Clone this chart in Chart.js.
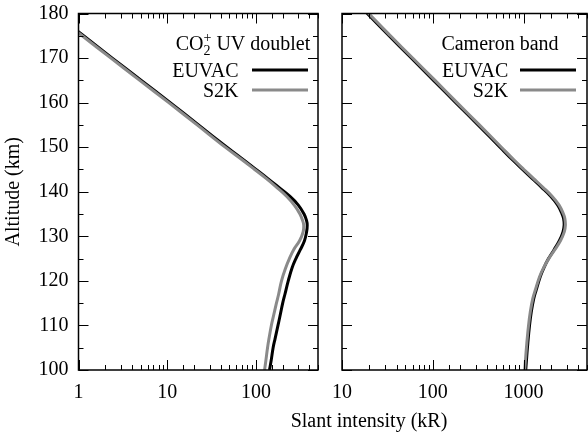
<!DOCTYPE html>
<html>
<head>
<meta charset="utf-8">
<script src="https://cdn.jsdelivr.net/npm/chart.js@4.4.1/dist/chart.umd.min.js"></script>
<style>
  body { margin: 0; background: #fff; overflow: hidden; }
  #wrap { position: relative; width: 588px; height: 434px; }
  canvas { position: absolute; top: 0; }
  #left { left: 0; }
  #right { left: 330px; }
  #xtitle { position: absolute; left: 269px; width: 200px; top: 410px; text-align: center;
            font: 20px 'Liberation Serif'; line-height: 20px; color: #000; white-space: nowrap; }
</style>
</head>
<body>
<div id="wrap">
  <canvas id="left" width="330" height="434"></canvas>
  <canvas id="right" width="258" height="434"></canvas>
  <div id="xtitle">Slant intensity (kR)</div>
</div>
<script>
// CO2+ UV doublet panel (altitude km -> slant intensity kR)
const altUV = [178, 175, 170, 165, 160, 155, 150, 147, 145, 143, 141, 139, 137, 135, 133.5, 132.5, 131, 129, 127, 125, 123, 120, 117, 115, 112, 110, 107, 105, 102, 100];
const uvEuvac = [0.73, 1.14, 2.4, 5.1, 10.8, 22.5, 47, 74, 100, 135, 180, 240, 300, 348, 372, 378, 372, 352, 316, 282, 256, 231, 212, 200, 186, 177, 164, 156, 148, 142];
const uvS2k = [0.71, 1.1, 2.32, 4.9, 10.4, 21.7, 45, 71.5, 96.5, 130, 171, 221, 270, 313, 336, 345, 340, 310, 266, 238, 217, 194, 180, 170, 157, 149, 140, 135, 129, 125];

// Cameron band panel
const altCB = [182, 180, 175, 170, 165, 160, 155, 150, 147, 145, 143, 141, 139, 137, 135, 134, 132.5, 131, 129, 127, 125, 123, 121, 118, 116, 113, 110, 106, 103, 100];
const cbEuvac = [15.4, 19, 33, 58, 102, 179, 315, 550, 770, 975, 1240, 1580, 1990, 2380, 2660, 2760, 2800, 2720, 2480, 2170, 1885, 1680, 1530, 1380, 1295, 1216, 1164, 1114, 1084, 1057];
const cbS2k = [16, 19.7, 34.2, 60, 106, 185, 326, 570, 797, 1009, 1283, 1635, 2060, 2463, 2753, 2850, 2890, 2810, 2550, 2210, 1895, 1670, 1505, 1350, 1263, 1186, 1135, 1086, 1057, 1030];

const seriesNames = ['EUVAC', 'S2K'];
const yTicks = { min: 100, max: 180, step: 5 };

const FONT = 'Liberation Serif';

const pts = (alts, vals) => vals.map((v, i) => ({ x: v, y: alts[i] }));

// frame, inward ticks on all sides, and the key
const panelDeco = {
  id: 'panelDeco',
  afterDraw(chart, args, o) {
    const { ctx, chartArea: a } = chart;
    const x = chart.scales.x, y = chart.scales.y;
    ctx.save();
    ctx.strokeStyle = '#000';
    ctx.lineWidth = 1;
    ctx.beginPath();
    x.ticks.forEach(t => {
      const p = Math.round(x.getPixelForValue(t.value)) + 0.5;
      const lg = Math.log10(t.value);
      const len = Math.abs(lg - Math.round(lg)) < 1e-6 ? 10 : 5;
      ctx.moveTo(p, a.bottom); ctx.lineTo(p, a.bottom - len);
      ctx.moveTo(p, a.top); ctx.lineTo(p, a.top + len);
    });
    y.ticks.forEach(t => {
      const p = Math.round(y.getPixelForValue(t.value)) + 0.5;
      const len = t.value % 10 === 0 ? 10 : 5;
      ctx.moveTo(a.left, p); ctx.lineTo(a.left + len, p);
      ctx.moveTo(a.right, p); ctx.lineTo(a.right - len, p);
    });
    ctx.stroke();
    ctx.lineWidth = 1.5;
    ctx.strokeRect(a.left, a.top, a.right - a.left, a.bottom - a.top);

    // key title
    ctx.fillStyle = '#000';
    ctx.textBaseline = 'alphabetic';
    const big = '20px "' + FONT + '"', small = '14px "' + FONT + '"';
    let total = 0;
    o.title.forEach(s => {
      if (s.t !== undefined) { ctx.font = big; s.w = ctx.measureText(s.t).width; }
      else { ctx.font = small; s.w = Math.max(ctx.measureText(s.sub).width, ctx.measureText(s.sup).width); }
      total += s.w;
    });
    let cx = o.titleX - total / 2;
    o.title.forEach(s => {
      ctx.textAlign = 'left';
      if (s.t !== undefined) { ctx.font = big; ctx.fillText(s.t, cx, o.titleY); }
      else {
        ctx.font = small;
        ctx.fillText(s.sup, cx, o.titleY - 8);
        ctx.fillText(s.sub, cx, o.titleY + 5);
      }
      cx += s.w;
    });

    // key rows
    ctx.font = big;
    ctx.textAlign = 'right';
    chart.data.datasets.forEach((ds, i) => {
      const ry = o.rowY[i];
      ctx.fillText(ds.label, o.textRight, ry + 7);
      ctx.strokeStyle = ds.borderColor;
      ctx.lineWidth = ds.borderWidth;
      ctx.beginPath();
      ctx.moveTo(o.lineX0, ry); ctx.lineTo(o.lineX1, ry);
      ctx.stroke();
    });
    ctx.restore();
  }
};

const noOverflow = s => { s.paddingTop = 0; s.paddingBottom = 0; s.paddingLeft = 0; s.paddingRight = 0; };

const makeChart = (id, alts, euvac, s2k, xmin, xmax, showY, pad, deco) => {
  const ctx = document.getElementById(id).getContext('2d');
  return new Chart(ctx, {
    type: 'line',
    data: {
      datasets: [{
        label: seriesNames[0],
        data: pts(alts, euvac),
        borderColor: '#000',
        borderWidth: 3,
        pointRadius: 0,
        tension: 0.4,
        order: 1
      }, {
        label: seriesNames[1],
        data: pts(alts, s2k),
        borderColor: '#8a8a8a',
        borderWidth: 3,
        pointRadius: 0,
        tension: 0.4,
        order: 0
      }]
    },
    options: {
      responsive: false,
      animation: false,
      layout: { padding: pad },
      plugins: { legend: { display: false }, tooltip: { enabled: false }, panelDeco: deco },
      scales: {
        x: {
          type: 'logarithmic',
          min: xmin,
          max: xmax,
          grid: { display: false, drawTicks: false },
          border: { display: false },
          ticks: {
            autoSkip: false,
            maxRotation: 0,
            padding: 11,
            color: '#000',
            font: { family: FONT, size: 20 },
            callback: v => {
              const lg = Math.log10(v);
              return Math.abs(lg - Math.round(lg)) < 1e-6 ? String(v) : '';
            }
          },
          afterFit: s => { s.height = 64; noOverflow(s); }
        },
        y: {
          type: 'linear',
          min: yTicks.min,
          max: yTicks.max,
          grid: { display: false, drawTicks: false },
          border: { display: false },
          title: {
            display: showY,
            text: 'Altitude (km)',
            color: '#000',
            font: { family: FONT, size: 20 },
            padding: { top: 2, bottom: 0 }
          },
          ticks: {
            display: showY,
            stepSize: yTicks.step,
            autoSkip: false,
            padding: 10,
            color: '#000',
            font: { family: FONT, size: 20 },
            callback: v => (v % 10 === 0 ? String(v) : '')
          },
          afterFit: s => { s.width = showY ? 78.5 : 0; noOverflow(s); }
        }
      }
    },
    plugins: [panelDeco]
  });
};

makeChart('left', altUV, uvEuvac, uvS2k, 1, 500, true,
  { top: 13.5, right: 12, left: 0, bottom: 0 },
  { title: [{ t: 'CO' }, { sub: '2', sup: '+' }, { t: ' UV doublet' }], titleX: 243, titleY: 50,
    rowY: [70, 90], textRight: 238.5, lineX0: 252, lineX1: 308 });

makeChart('right', altCB, cbEuvac, cbS2k, 10, 5000, false,
  { top: 13.5, right: 1, left: 12, bottom: 0 },
  { title: [{ t: 'Cameron band' }], titleX: 170, titleY: 50,
    rowY: [70, 90], textRight: 178.3, lineX0: 190, lineX1: 246 });
</script>
</body>
</html>
